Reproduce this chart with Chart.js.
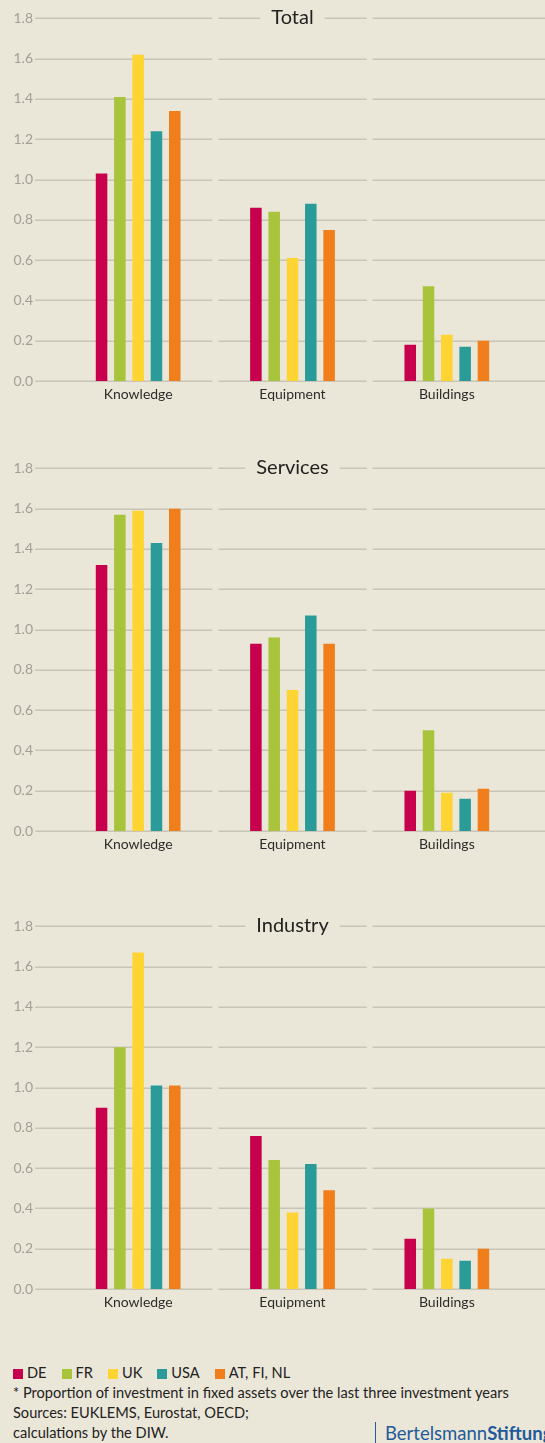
<!DOCTYPE html>
<html>
<head>
<meta charset="utf-8">
<script src="https://cdn.jsdelivr.net/npm/chart.js@4"></script>
<style>
  body { margin: 0; width: 545px; height: 1443px; overflow: hidden; position: relative;
         background: #ebe7d8; font-family: Lato, sans-serif; color: #222; }
  .panel { position: absolute; left: 0; width: 545px; height: 438px; }
  #footer { position: absolute; left: 13px; top: 1363px; font-size: 14.6px; line-height: 20px; white-space: nowrap; }
  #legend span.item { margin-right: 15px; }
  #legend i { display: inline-block; width: 10px; height: 10px; margin-right: 4px; vertical-align: -1px; }
  #logo { position: absolute; left: 375px; top: 1422px; height: 21px; border-left: 1.5px solid #2a5d98;
          padding-left: 9px; color: #1f5a9a; font-size: 18.5px; line-height: 22px; white-space: nowrap; }
</style>
</head>
<body>
<div class="panel" style="top:-18px"><canvas id="c0"></canvas></div>
<div class="panel" style="top:432px"><canvas id="c1"></canvas></div>
<div class="panel" style="top:890px"><canvas id="c2"></canvas></div>

<div id="footer">
  <div id="legend"></div>
  <div>* Proportion of investment in fixed assets over the last three investment years</div>
  <div>Sources: EUKLEMS, Eurostat, OECD;</div>
  <div>calculations by the DIW.</div>
</div>
<div id="logo">Bertelsmann<b>Stiftung</b></div>

<script>
const categories = ['Knowledge', 'Equipment', 'Buildings'];
const series = ['DE', 'FR', 'UK', 'USA', 'AT, FI, NL'];
const colors = ['#c6004c', '#a8c43a', '#fdd431', '#2a9b98', '#ef7e1b'];
const panelTitles = ['Total', 'Services', 'Industry'];
const yTicks = [0, 0.2, 0.4, 0.6, 0.8, 1.0, 1.2, 1.4, 1.6, 1.8];

// rows = series (DE, FR, UK, USA, AT/FI/NL), columns = categories
const total = [
  [1.03, 0.86, 0.18],
  [1.41, 0.84, 0.47],
  [1.62, 0.61, 0.23],
  [1.24, 0.88, 0.17],
  [1.34, 0.75, 0.20]
];
const services = [
  [1.32, 0.93, 0.20],
  [1.57, 0.96, 0.50],
  [1.59, 0.70, 0.19],
  [1.43, 1.07, 0.16],
  [1.60, 0.93, 0.21]
];
const industry = [
  [0.90, 0.76, 0.25],
  [1.20, 0.64, 0.40],
  [1.67, 0.38, 0.15],
  [1.01, 0.62, 0.14],
  [1.01, 0.49, 0.20]
];
const panelData = [total, services, industry];

// legend
const legend = document.getElementById('legend');
series.forEach((s, i) => {
  legend.innerHTML += '<span class="item"><i style="background:' + colors[i] + '"></i>' + s + '</span>';
});

// split gridlines per category + title sitting on the top line
const splitGrid = {
  id: 'splitGrid',
  beforeDatasetsDraw(chart, args, opts) {
    const ctx = chart.ctx;
    const x = chart.scales.x, y = chart.scales.y;
    const b1 = (x.getPixelForValue(0) + x.getPixelForValue(1)) / 2;
    const b2 = (x.getPixelForValue(1) + x.getPixelForValue(2)) / 2;
    const segs = [[35, b1 - 3], [b1 + 3, b2 - 3], [b2 + 3, 545]];
    ctx.save();
    ctx.font = '20px Lato';
    const cx = (chart.chartArea.left + chart.chartArea.right) / 2;
    const tw = ctx.measureText(opts.title).width;
    ctx.strokeStyle = '#c9c5b6';
    ctx.lineWidth = 1.5;
    y.ticks.forEach(t => {
      const py = Math.round(y.getPixelForValue(t.value)) + 0.25;
      segs.forEach(([a, b]) => {
        ctx.beginPath();
        if (t.value >= 1.8 - 1e-6) {
          const l = cx - tw / 2 - 11, r = cx + tw / 2 + 11;
          if (a < l) { ctx.moveTo(a, py); ctx.lineTo(Math.min(b, l), py); }
          if (b > r) { ctx.moveTo(Math.max(a, r), py); ctx.lineTo(b, py); }
        } else {
          ctx.moveTo(a, py); ctx.lineTo(b, py);
        }
        ctx.stroke();
      });
    });
    ctx.fillStyle = '#222';
    ctx.textAlign = 'center';
    ctx.textBaseline = 'middle';
    ctx.fillText(opts.title, cx, y.getPixelForValue(1.8) - 1);
    ctx.restore();
  }
};

panelData.forEach((rows, p) => {
  new Chart(document.getElementById('c' + p), {
    type: 'bar',
    data: {
      labels: categories,
      datasets: series.map((s, i) => ({
        label: s,
        data: rows[i],
        backgroundColor: colors[i],
        borderWidth: 0,
        categoryPercentage: 0.593,
        barPercentage: 0.63
      }))
    },
    options: {
      responsive: true,
      maintainAspectRatio: false,
      animation: false,
      layout: { padding: { top: 0, right: 21, left: 0, bottom: 0 } },
      plugins: {
        legend: { display: false },
        tooltip: { enabled: false },
        splitGrid: { title: panelTitles[p] }
      },
      scales: {
        x: {
          grid: { display: false, drawTicks: false },
          border: { display: false },
          ticks: { color: '#2c2c2c', font: { family: 'Lato', size: 14 }, padding: 5 },
          afterFit(scale) { scale.height = 39; }
        },
        y: {
          min: 0, max: 1.8,
          afterBuildTicks(scale) { scale.ticks = yTicks.map(v => ({ value: v })); },
          grid: { display: false, drawTicks: false },
          border: { display: false },
          ticks: {
            color: '#a19f96',
            font: { family: 'Lato', size: 14 },
            padding: 28,
            callback: v => Number(v).toFixed(1)
          },
          afterFit(scale) { scale.width = 61; }
        }
      }
    },
    plugins: [splitGrid]
  });
});
</script>
</body>
</html>
